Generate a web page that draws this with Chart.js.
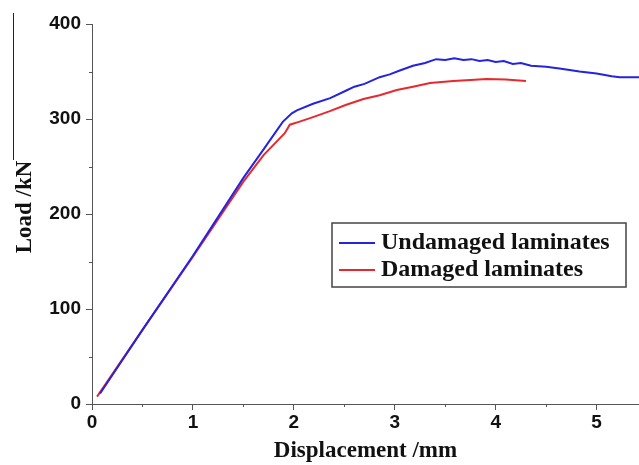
<!DOCTYPE html>
<html>
<head>
<meta charset="utf-8">
<script src="https://cdn.jsdelivr.net/npm/chart.js@4/dist/chart.umd.min.js"></script>
<style>
  html, body { margin: 0; padding: 0; background: #fff; }
  canvas { display: block; }
</style>
</head>
<body>
<canvas id="loadChart" width="639" height="465"></canvas>
<script>
// values (displacement mm / load kN)
const undamagedX = [0.08, 0.5, 1.0, 1.5, 1.7, 1.89, 1.98, 2.03, 2.19, 2.36, 2.52, 2.60, 2.70, 2.85, 2.95, 3.05, 3.18, 3.30, 3.41, 3.50, 3.59, 3.68, 3.76, 3.84, 3.92, 4.00, 4.08, 4.17, 4.25, 4.35, 4.50, 4.65, 4.83, 5.00, 5.15, 5.23, 5.42];
const undamagedY = [11, 78, 156, 238, 268, 297, 306, 309, 316, 322, 330, 334, 337, 344, 347, 351, 356, 359, 363, 362, 364, 362, 363, 361, 362, 360, 361, 358, 359, 356, 355, 353, 350, 348, 345, 344, 344];

const damagedX = [0.05, 0.5, 1.0, 1.5, 1.7, 1.91, 1.96, 2.05, 2.19, 2.35, 2.52, 2.69, 2.85, 3.02, 3.18, 3.35, 3.58, 3.75, 3.91, 4.10, 4.30];
const damagedY = [7.7, 78, 155, 234, 262, 285, 294, 297, 302, 308, 315, 321, 325, 330.5, 334, 338, 340, 341, 342, 341.5, 340];

const seriesLabels = ['Undamaged laminates', 'Damaged laminates'];
const seriesColors = ['#2323e0', '#e8282d'];

const xTicksMajor = [0, 1, 2, 3, 4, 5];
const xTicksMinor = [0.5, 1.5, 2.5, 3.5, 4.5];
const yTicksMinor = [50, 150, 250, 350];

const yTitle = 'Load /kN';
const xTitle = 'Displacement /mm';

function toPoints(xs, ys) {
    return xs.map((x, i) => ({ x, y: ys[i] }));
}

const minorTicks = {
    id: 'minorTicks',
    afterDraw(chart) {
        const { ctx, chartArea, scales } = chart;
        ctx.save();
        ctx.strokeStyle = '#555';
        ctx.lineWidth = 1;
        ctx.beginPath();
        xTicksMinor.forEach(v => {
            const px = Math.round(scales.x.getPixelForValue(v)) + 0.5;
            ctx.moveTo(px, chartArea.bottom);
            ctx.lineTo(px, chartArea.bottom + 3);
        });
        yTicksMinor.forEach(v => {
            const py = Math.round(scales.y.getPixelForValue(v)) + 0.5;
            ctx.moveTo(chartArea.left, py);
            ctx.lineTo(chartArea.left - 3, py);
        });
        ctx.stroke();
        // stray vertical stroke above the y title in the scan
        ctx.strokeStyle = '#222';
        ctx.beginPath();
        ctx.moveTo(13.5, 13);
        ctx.lineTo(13.5, 160);
        ctx.stroke();
        // y title, sits a little above the axis centre
        ctx.translate(25, 207);
        ctx.rotate(-Math.PI / 2);
        ctx.font = 'bold 23px "Liberation Serif", "Times New Roman", serif';
        ctx.fillStyle = '#111';
        ctx.textAlign = 'center';
        ctx.textBaseline = 'middle';
        ctx.fillText(yTitle, 0, 0);
        ctx.restore();
    }
};

const boxLegend = {
    id: 'boxLegend',
    afterDraw(chart) {
        const ctx = chart.ctx;
        ctx.save();
        ctx.strokeStyle = '#444';
        ctx.lineWidth = 1.5;
        ctx.strokeRect(332, 223, 294, 64);
        ctx.font = 'bold 24px "Liberation Serif", "Times New Roman", serif';
        ctx.textBaseline = 'middle';
        ctx.fillStyle = '#111';
        seriesLabels.forEach((label, i) => {
            const y = 243 + i * 27;
            ctx.strokeStyle = seriesColors[i];
            ctx.lineWidth = 2;
            ctx.beginPath();
            ctx.moveTo(339, y);
            ctx.lineTo(375, y);
            ctx.stroke();
            ctx.fillText(label, 381, y);
        });
        ctx.restore();
    }
};

const tickFont = { family: '"Liberation Sans", Arial, sans-serif', size: 19, weight: 'bold' };
const titleFont = { family: '"Liberation Serif", "Times New Roman", serif', size: 23, weight: 'bold' };

const ctx = document.getElementById('loadChart').getContext('2d');
new Chart(ctx, {
    type: 'line',
    data: {
        datasets: [
            {
                label: seriesLabels[0],
                data: toPoints(undamagedX, undamagedY),
                borderColor: seriesColors[0],
                borderWidth: 2,
                pointRadius: 0,
                tension: 0
            },
            {
                label: seriesLabels[1],
                data: toPoints(damagedX, damagedY),
                borderColor: seriesColors[1],
                borderWidth: 2,
                pointRadius: 0,
                tension: 0
            }
        ]
    },
    options: {
        responsive: false,
        animation: false,
        layout: { padding: { top: 24, right: 0, left: 0, bottom: 0 } },
        plugins: {
            legend: { display: false },
            tooltip: { enabled: false }
        },
        scales: {
            x: {
                type: 'linear',
                min: 0,
                max: 5.42,
                afterFit: scale => { scale.height = 61; },
                ticks: {
                    stepSize: 1,
                    includeBounds: false,
                    autoSkip: false,
                    maxRotation: 0,
                    color: '#111',
                    font: tickFont,
                    padding: 1,
                    callback: v => xTicksMajor.includes(v) ? String(v) : ''
                },
                grid: { drawOnChartArea: false, drawTicks: true, tickLength: 6, color: '#555' },
                border: { display: true, color: '#555', width: 1 },
                title: {
                    display: true,
                    text: xTitle,
                    color: '#111',
                    font: titleFont,
                    padding: { top: 0, bottom: 0 }
                }
            },
            y: {
                min: 0,
                max: 400,
                afterFit: scale => { scale.width = 92; },
                ticks: {
                    stepSize: 100,
                    color: '#111',
                    font: tickFont,
                    padding: 5
                },
                grid: { drawOnChartArea: false, drawTicks: true, tickLength: 6, color: '#555' },
                border: { display: true, color: '#555', width: 1 }
            }
        }
    },
    plugins: [minorTicks, boxLegend]
});
</script>
</body>
</html>
